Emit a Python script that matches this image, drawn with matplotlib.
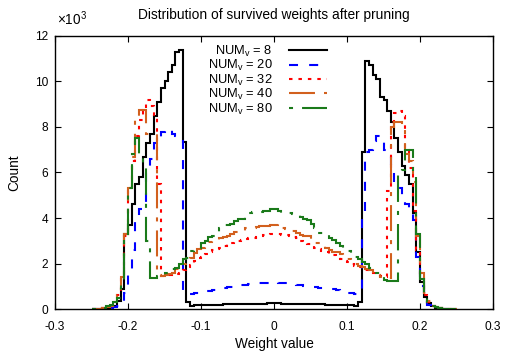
import numpy as np
import matplotlib
matplotlib.use('Agg')
import matplotlib.pyplot as plt
from matplotlib.lines import Line2D

plt.rcParams['font.family'] = ['Liberation Sans', 'DejaVu Sans']
plt.rcParams['font.size'] = 8.3
plt.rcParams['mathtext.fontset'] = 'custom'
plt.rcParams['mathtext.rm'] = 'Liberation Sans'
plt.rcParams['mathtext.it'] = 'Liberation Sans:italic'
plt.rcParams['lines.scale_dashes'] = False

# histogram bins: 0.005 wide from -0.25 to 0.25 (counts in thousands)
bin_edges = np.linspace(-0.25, 0.25, 101)

counts_8 = [
    0, 0, 0.02, 0.03, 0.05, 0.08, 0.15, 0.35, 0.9, 3.3,
    3.7, 4.6, 5.5, 5.8, 6.7, 7.3, 7.7, 8.5, 9.1, 9.7,
    10.0, 10.4, 10.7, 11.3, 11.4, 7.35, 0.3, 0.15, 0.16, 0.17,
    0.17, 0.18, 0.19, 0.19, 0.2, 0.2, 0.21, 0.21, 0.22, 0.22,
    0.22, 0.23, 0.23, 0.23, 0.24, 0.24, 0.24, 0.24, 0.25, 0.25,
    0.25, 0.25, 0.24, 0.24, 0.24, 0.24, 0.23, 0.23, 0.23, 0.22,
    0.22, 0.22, 0.21, 0.21, 0.2, 0.2, 0.19, 0.19, 0.18, 0.17,
    0.17, 0.16, 0.15, 0.3, 6.9, 10.9, 10.7, 10.3, 10.1, 9.3,
    9.2, 8.7, 8.2, 7.5, 6.9, 6.3, 5.9, 5.5, 4.2, 2.5,
    1.2, 0.55, 0.25, 0.12, 0.06, 0.03, 0, 0, 0, 0,
]
counts_20 = [
    0, 0, 0, 0, 0, 0.03, 0.08, 0.15, 0.35, 0.7,
    1.5, 2.6, 3.9, 4.4, 4.5, 6.0, 6.6, 7.3, 7.5, 7.8,
    7.9, 7.9, 7.7, 7.6, 7.5, 0.65, 0.66, 0.68, 0.7, 0.7,
    0.74, 0.78, 0.8, 0.84, 0.86, 0.88, 0.92, 0.95, 0.98, 1.0,
    1.02, 1.05, 1.06, 1.08, 1.09, 1.1, 1.13, 1.14, 1.16, 1.16,
    1.17, 1.16, 1.16, 1.14, 1.12, 1.1, 1.06, 1.04, 1.02, 1.0,
    0.97, 0.95, 0.94, 0.92, 0.9, 0.88, 0.86, 0.82, 0.78, 0.75,
    0.72, 0.7, 0.68, 0.65, 4.0, 6.9, 7.0, 7.4, 7.6, 7.5,
    7.0, 6.8, 6.2, 5.6, 5.3, 4.8, 4.6, 4.2, 3.9, 2.3,
    1.0, 0.4, 0.2, 0.1, 0.05, 0.02, 0, 0, 0, 0,
]
counts_32 = [
    0, 0, 0, 0.03, 0.08, 0.15, 0.3, 0.6, 1.4, 3.2,
    5.2, 6.5, 7.6, 8.3, 8.8, 9.2, 8.9, 8.4, 5.5, 1.45,
    1.45, 1.48, 1.52, 1.55, 1.6, 1.7, 1.86, 1.95, 2.1, 2.25,
    2.3, 2.4, 2.5, 2.6, 2.62, 2.7, 2.78, 2.85, 2.9, 2.95,
    2.98, 3.02, 3.08, 3.1, 3.12, 3.18, 3.2, 3.25, 3.25, 3.28,
    3.3, 3.28, 3.25, 3.25, 3.2, 3.15, 3.1, 3.0, 2.92, 2.85,
    2.78, 2.7, 2.62, 2.55, 2.5, 2.42, 2.38, 2.3, 2.2, 2.1,
    2.05, 1.98, 1.9, 1.85, 1.75, 1.7, 1.64, 1.6, 1.5, 1.45,
    1.42, 5.2, 8.2, 8.6, 8.7, 8.5, 7.0, 6.2, 4.3, 2.6,
    1.3, 0.6, 0.3, 0.15, 0.08, 0.04, 0, 0, 0, 0,
]
counts_40 = [
    0, 0, 0, 0.05, 0.1, 0.15, 0.25, 0.6, 1.4, 3.3,
    5.3, 6.7, 8.3, 8.75, 8.75, 7.7, 7.7, 7.7, 1.5, 1.45,
    1.48, 1.55, 1.6, 1.75, 1.85, 2.0, 2.1, 2.25, 2.45, 2.66,
    2.7, 2.85, 2.96, 2.98, 3.05, 3.1, 3.17, 3.2, 3.3, 3.39,
    3.4, 3.45, 3.54, 3.55, 3.56, 3.6, 3.64, 3.64, 3.66, 3.69,
    3.7, 3.75, 3.55, 3.5, 3.47, 3.45, 3.35, 3.25, 3.22, 3.2,
    3.0, 2.9, 2.88, 2.78, 2.7, 2.6, 2.52, 2.5, 2.4, 2.3,
    2.2, 2.08, 2.0, 1.9, 1.85, 1.75, 1.7, 1.6, 1.5, 1.4,
    1.35, 1.35, 8.0, 8.2, 8.2, 8.1, 6.8, 6.5, 5.6, 3.2,
    1.6, 0.7, 0.35, 0.18, 0.1, 0.05, 0, 0, 0, 0,
]
counts_80 = [
    0, 0, 0.03, 0.06, 0.12, 0.2, 0.3, 0.5, 1.1, 3.3,
    5.3, 6.8, 7.5, 6.8, 6.4, 3.0, 1.35, 1.38, 1.45, 1.5,
    1.6, 1.75, 1.78, 1.8, 2.0, 2.2, 2.24, 2.55, 2.6, 2.7,
    2.9, 3.0, 3.17, 3.2, 3.3, 3.54, 3.69, 3.7, 3.75, 3.85,
    3.94, 3.95, 4.05, 4.2, 4.27, 4.28, 4.27, 4.3, 4.32, 4.38,
    4.38, 4.3, 4.23, 4.23, 4.2, 4.18, 4.15, 4.05, 3.95, 3.9,
    3.75, 3.55, 3.34, 3.34, 3.3, 3.1, 3.05, 2.9, 2.75, 2.6,
    2.55, 2.4, 2.3, 2.2, 2.08, 2.0, 1.8, 1.7, 1.6, 1.4,
    1.27, 1.25, 1.25, 1.25, 6.0, 6.1, 7.0, 7.0, 5.8, 3.3,
    1.3, 0.6, 0.3, 0.15, 0.08, 0.04, 0, 0, 0, 0,
]

# the figure space keeps the one-digit label as wide as the others
series = [
    ('NUM$_\\mathrm{v}$ = 8\u2007', counts_8, dict(color='#000000', linestyle='-')),
    ('NUM$_\\mathrm{v}$ = 20', counts_20, dict(color='#0000ff', linestyle=(0, (6.5, 8)))),
    ('NUM$_\\mathrm{v}$ = 32', counts_32, dict(color='#ff0000', linestyle=(0, (2.5, 4.3)))),
    ('NUM$_\\mathrm{v}$ = 40', counts_40, dict(color='#d2601e', linestyle=(0, (18.7, 6.5, 2.9, 6.5)))),
    ('NUM$_\\mathrm{v}$ = 80', counts_80, dict(color='#1a7a1a', linestyle=(0, (2.9, 6.5, 19, 6.5)))),
]

fig = plt.figure(figsize=(5.07, 3.52), dpi=100)
ax = fig.add_axes([0.1085, 0.122, 0.8639, 0.776])

handles = []
for label, vals, style in series:
    ax.stairs(vals, bin_edges, linewidth=1.5, baseline=None, **style)
    handles.append(Line2D([0], [0], linewidth=1.5, label=label, **style))

ax.set_xlim(-0.3, 0.3)
ax.set_ylim(0, 12)
ax.set_xticks([-0.3, -0.2, -0.1, 0, 0.1, 0.2, 0.3])
ax.set_xticklabels(['-0.3', '-0.2', '-0.1', '0', '0.1', '0.2', '0.3'])
ax.set_yticks(range(0, 13, 2))
ax.tick_params(direction='in', length=4, width=0.8, top=True, right=True,
               labelsize=8.6)
ax.tick_params(axis='x', pad=8.5)
ax.tick_params(axis='y', pad=5)
for sp in ax.spines.values():
    sp.set_linewidth(1.0)

ax.set_title('Distribution of survived weights after pruning', pad=12, fontsize=9.9)
ax.text(0.005, 1.03, r'$\times10^3$', transform=ax.transAxes, ha='left',
        va='bottom', fontsize=9.8)
ax.set_xlabel('Weight value', labelpad=3, fontsize=9.8)
ax.set_ylabel('Count', labelpad=10, fontsize=9.8)

ax.legend(handles=handles, loc='upper center', bbox_to_anchor=(0.486, 1.0),
          frameon=False, markerfirst=False, handlelength=3.0, handletextpad=1.2,
          labelspacing=-0.05, borderaxespad=0.2, fontsize=9.3)

fig.savefig('out.png', dpi=100)
